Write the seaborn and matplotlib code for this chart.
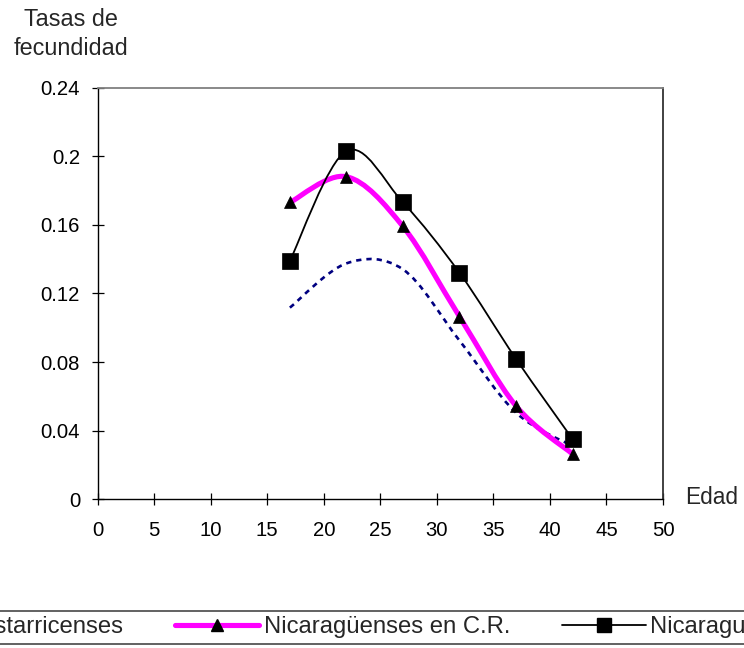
import numpy as np
import pandas as pd
import matplotlib
matplotlib.use("Agg")
import matplotlib.pyplot as plt
from matplotlib.path import Path
from matplotlib.patches import PathPatch
from matplotlib.lines import Line2D
import seaborn as sns

# ---- data ----
edad = [17, 22, 27, 32, 37, 42]
costarricenses = [0.1117, 0.1375, 0.1340, 0.0925, 0.0505, 0.0310]
nica_cr = [0.1730, 0.1880, 0.1590, 0.1065, 0.0544, 0.0264]
nicaragua = [0.1390, 0.2030, 0.1730, 0.1320, 0.0818, 0.0351]
series_names = ["Costarricenses", "Nicaragüenses en C.R.", "Nicaragua"]
x_ticks = [0, 5, 10, 15, 20, 25, 30, 35, 40, 45, 50]
y_ticks = [0, 0.04, 0.08, 0.12, 0.16, 0.2, 0.24]
y_tick_labels = ["0", "0.04", "0.08", "0.12", "0.16", "0.2", "0.24"]

sns.set_style("white")
plt.rcParams["font.family"] = ["Liberation Sans", "DejaVu Sans"]

W, H = 744, 648
fig = plt.figure(figsize=(W / 100, H / 100), dpi=100)
ax = fig.add_axes([97.7 / W, 1 - 499.3 / H, (663 - 97.7) / W, (499.3 - 87.5) / H])


def smooth_path(xs, ys):
    """Excel-like smoothed line: cubic Bezier through the points."""
    p = np.column_stack([xs, ys]).astype(float)
    n = len(p)
    verts = [p[0]]
    codes = [Path.MOVETO]
    for i in range(n - 1):
        p_prev = p[i - 1] if i > 0 else p[i]
        p_next2 = p[i + 2] if i + 2 < n else p[i + 1]
        c1 = p[i] + (p[i + 1] - p_prev) / 6.0
        c2 = p[i + 1] - (p_next2 - p[i]) / 6.0
        verts += [c1, c2, p[i + 1]]
        codes += [Path.CURVE4] * 3
    return Path(verts, codes)


styles = {
    "Costarricenses": dict(color="#000080", lw=1.9, ls=(0, (2.0, 1.9)), marker=None, ms=0),
    "Nicaragüenses en C.R.": dict(color="#FF00FF", lw=3.7, ls="-", marker="^", ms=9),
    "Nicaragua": dict(color="black", lw=1.3, ls="-", marker="s", ms=11),
}
data = {
    "Costarricenses": costarricenses,
    "Nicaragüenses en C.R.": nica_cr,
    "Nicaragua": nicaragua,
}

handles = []
for name in series_names:
    st = styles[name]
    ys = data[name]
    patch = PathPatch(smooth_path(edad, ys), facecolor="none", edgecolor=st["color"],
                      lw=st["lw"], ls=st["ls"], capstyle="butt", zorder=2)
    ax.add_patch(patch)
    if st["marker"]:
        df = pd.DataFrame({"edad": edad, "tasa": ys})
        sns.lineplot(data=df, x="edad", y="tasa", ax=ax, linestyle="", marker=st["marker"],
                     markersize=st["ms"], color="black", markeredgecolor="black",
                     markeredgewidth=0.5, zorder=3)
    handles.append(Line2D([], [], color=st["color"], lw=st["lw"], ls=st["ls"],
                          marker=st["marker"], markersize=st["ms"] * 0.95,
                          markerfacecolor="black", markeredgecolor="black",
                          dash_capstyle="butt"))

ax.set_xlim(0, 50)
ax.set_ylim(0, 0.24)
ax.set_xticks(x_ticks)
ax.set_xticklabels([str(v) for v in x_ticks])
ax.set_yticks(y_ticks)
ax.set_yticklabels(y_tick_labels)
ax.set_xlabel("")
ax.set_ylabel("")
ax.tick_params(axis="both", direction="inout", length=8.6, width=0.9, color="black",
               labelsize=14.6, labelcolor="black")
ax.tick_params(axis="y", pad=8.4, left=True, right=False)
ax.tick_params(axis="x", pad=11.0, bottom=True, top=False)

for side in ["left", "bottom"]:
    ax.spines[side].set_color("black")
    ax.spines[side].set_linewidth(1.0)
ax.spines["top"].set_color("#808080")
ax.spines["top"].set_linewidth(1.3)
ax.spines["right"].set_color("#333333")
ax.spines["right"].set_linewidth(1.3)
for s in ax.spines.values():
    s.set_visible(True)
ax.grid(False)

# axis titles
fig.text(71 / W, 1 - 26 / H, "Tasas de", ha="center", va="baseline", fontsize=16.8)
fig.text(71 / W, 1 - 55 / H, "fecundidad", ha="center", va="baseline", fontsize=16.8)
fig.text(685.5 / W, 1 - 504 / H, "Edad", ha="left", va="baseline", fontsize=16.3)

leg = fig.legend(handles, series_names, loc="upper left",
                 bbox_to_anchor=(-129 / W, 1 - 611 / H), bbox_transform=fig.transFigure,
                 ncol=3, fontsize=17.2, handlelength=3.5, handletextpad=0.2,
                 columnspacing=2.17, borderpad=0.22, borderaxespad=0, frameon=True,
                 fancybox=False, edgecolor="#555555", framealpha=1)
leg.get_frame().set_linewidth(1.3)

fig.savefig("out.png", dpi=100)
